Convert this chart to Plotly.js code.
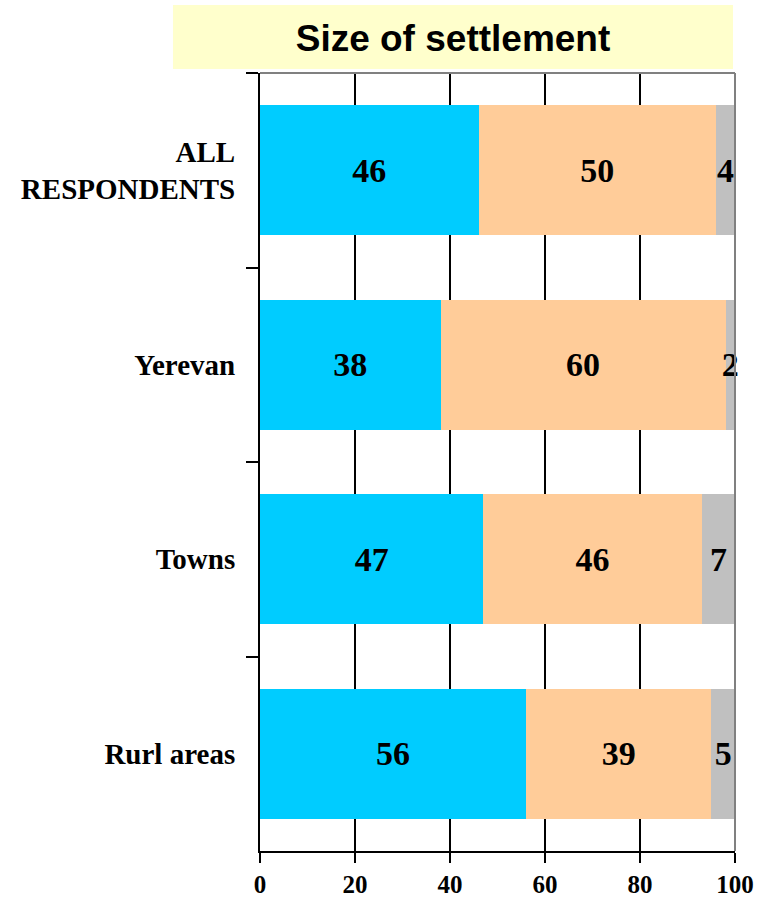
<!DOCTYPE html>
<html>
<head>
<meta charset="utf-8">
<script src="https://cdn.plot.ly/plotly-3.0.1.min.js"></script>
<style>html,body{margin:0;padding:0;background:#fff;}#chart{width:757px;height:906px;}</style>
</head>
<body>
<div id="chart"></div>
<script>
const categories = ["ALL<br>RESPONDENTS", "Yerevan", "Towns", "Rurl areas"];
const seriesA = [46, 38, 47, 56];
const seriesB = [50, 60, 46, 39];
const seriesC = [4, 2, 7, 5];
const xTicks = [0, 20, 40, 60, 80, 100];

const colors = ["#00CCFF", "#FFCC99", "#C0C0C0"];

function mk(vals, color) {
  return {
    type: "bar", orientation: "h", y: categories, x: vals,
    marker: {color: color, line: {width: 0}},
    text: vals.map(String), textposition: "inside", insidetextanchor: "middle",
    textangle: 0, constraintext: "none",
    insidetextfont: {family: "Liberation Serif", size: 34, color: "#000", weight: "bold"},
    hoverinfo: "skip", showlegend: false, cliponaxis: false
  };
}

const data = [
  mk(seriesA, colors[0]),
  mk(seriesB, colors[1]),
  mk(seriesC, colors[2])
];

const layout = {
  width: 757, height: 906,
  margin: {l: 260, r: 22, t: 73, b: 55},
  paper_bgcolor: "#fff", plot_bgcolor: "#fff",
  barmode: "stack", bargap: 0.33,
  hovermode: false,
  title: {
    text: "Size of settlement", x: 453/757, xanchor: "center",
    y: 1 - 38/906, yanchor: "middle", yref: "container",
    font: {family: "Liberation Sans", size: 37, color: "#000", weight: "bold"}
  },
  xaxis: {
    range: [0, 100], tickvals: xTicks, ticktext: xTicks.map(String),
    showgrid: true, gridcolor: "#000", gridwidth: 2,
    showline: true, linecolor: "#000", linewidth: 2,
    ticks: "outside", ticklen: 10, tickwidth: 2, tickcolor: "#000",
    zeroline: false, fixedrange: true,
    tickfont: {family: "Liberation Serif", size: 25, color: "#000", weight: "bold"}
  },
  yaxis: {
    type: "category", autorange: "reversed",
    showgrid: false, zeroline: false,
    showline: true, linecolor: "#000", linewidth: 2,
    ticks: "outside", tickson: "boundaries", ticklen: 12, tickwidth: 2, tickcolor: "#000",
    ticklabelstandoff: 17, fixedrange: true,
    tickfont: {family: "Liberation Serif", size: 29, color: "#000", weight: "bold"}
  },
  shapes: [
    {type: "rect", xref: "paper", yref: "paper", x0: -0.1832, x1: 0.9958, y0: 1.0051, y1: 1.0874,
     fillcolor: "#FFFFCC", line: {width: 0}, layer: "below"},
    {type: "line", xref: "paper", yref: "paper", x0: 0, x1: 1, y0: 1, y1: 1,
     line: {color: "#808080", width: 2}, layer: "above"},
    {type: "line", xref: "paper", yref: "paper", x0: 1, x1: 1, y0: 0, y1: 1,
     line: {color: "#808080", width: 2}, layer: "above"}
  ]
};

Plotly.newPlot("chart", data, layout, {displayModeBar: false, staticPlot: true});
</script>
</body>
</html>
